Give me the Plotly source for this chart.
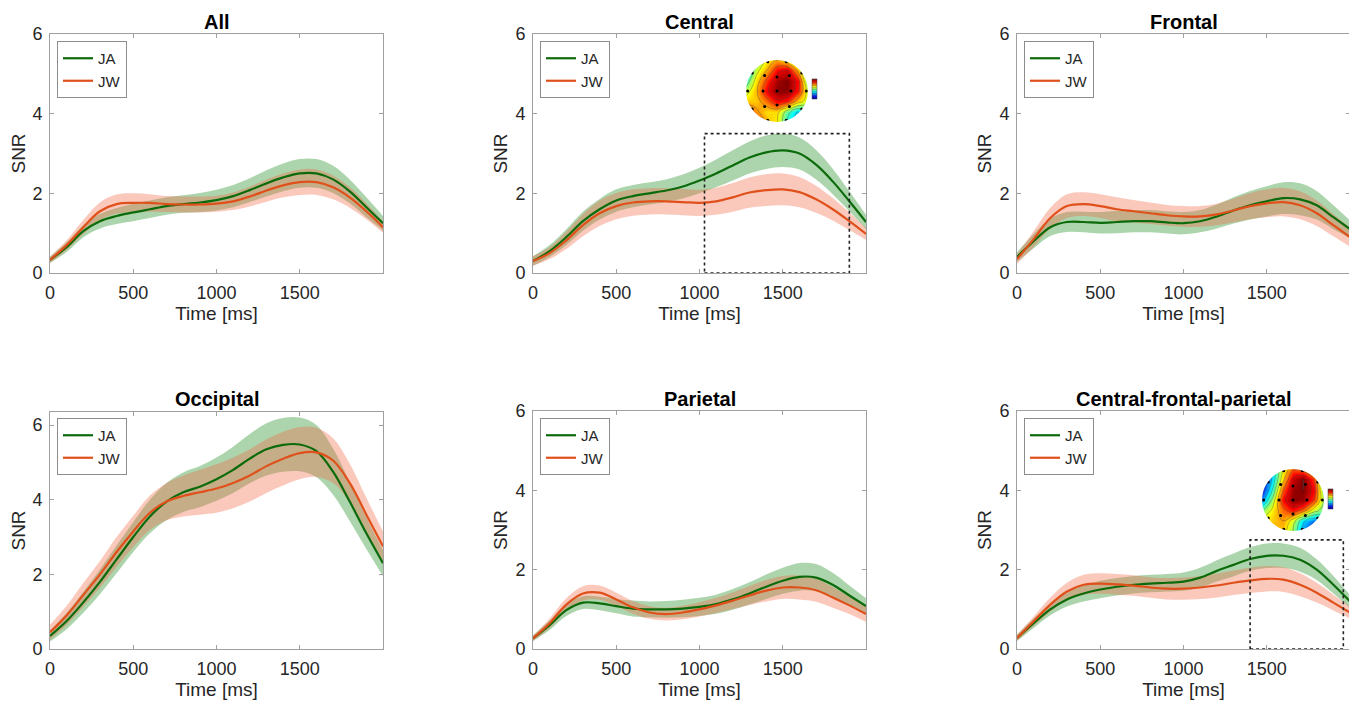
import plotly.graph_objects as go

# ---------------- data ----------------
time_ms = [0, 100, 200, 300, 400, 500, 600, 700, 800, 900, 1000,
           1100, 1200, 1300, 1400, 1500, 1600, 1700, 1800, 1900, 2000]

panel_titles = ["All", "Central", "Frontal", "Occipital", "Parietal", "Central-frontal-parietal"]

# mean SNR curves (JA / JW) per panel, and half-width of shaded bands
all_ja = [0.33, 0.65, 1.05, 1.30, 1.43, 1.52, 1.60, 1.68, 1.73, 1.77, 1.83, 1.93, 2.08, 2.25, 2.40, 2.50, 2.50, 2.35, 2.05, 1.65, 1.25]
all_jw = [0.33, 0.70, 1.15, 1.55, 1.73, 1.76, 1.76, 1.73, 1.72, 1.72, 1.74, 1.80, 1.92, 2.07, 2.20, 2.28, 2.28, 2.15, 1.90, 1.55, 1.15]
all_ja_err = [0.08, 0.12, 0.15, 0.18, 0.2, 0.22, 0.22, 0.22, 0.22, 0.24, 0.26, 0.28, 0.3, 0.33, 0.35, 0.36, 0.36, 0.34, 0.3, 0.25, 0.18]
all_jw_err = [0.08, 0.12, 0.18, 0.22, 0.24, 0.24, 0.22, 0.2, 0.2, 0.2, 0.2, 0.22, 0.25, 0.28, 0.3, 0.32, 0.32, 0.3, 0.26, 0.2, 0.14]

cen_ja = [0.30, 0.55, 0.90, 1.30, 1.60, 1.82, 1.93, 2.00, 2.07, 2.17, 2.32, 2.50, 2.70, 2.90, 3.03, 3.08, 3.00, 2.72, 2.30, 1.80, 1.28]
cen_jw = [0.30, 0.50, 0.82, 1.20, 1.50, 1.68, 1.77, 1.80, 1.80, 1.78, 1.76, 1.80, 1.90, 2.02, 2.08, 2.10, 2.03, 1.85, 1.60, 1.30, 0.98]
cen_ja_err = [0.12, 0.15, 0.2, 0.24, 0.26, 0.28, 0.28, 0.28, 0.28, 0.3, 0.32, 0.35, 0.38, 0.4, 0.42, 0.42, 0.4, 0.37, 0.32, 0.25, 0.18]
cen_jw_err = [0.12, 0.15, 0.22, 0.28, 0.32, 0.33, 0.33, 0.33, 0.33, 0.33, 0.33, 0.34, 0.36, 0.38, 0.4, 0.4, 0.38, 0.34, 0.28, 0.22, 0.15]

fro_ja = [0.40, 0.80, 1.15, 1.28, 1.28, 1.26, 1.28, 1.30, 1.30, 1.27, 1.25, 1.30, 1.42, 1.57, 1.70, 1.80, 1.88, 1.85, 1.70, 1.40, 1.10]
fro_jw = [0.35, 0.85, 1.38, 1.68, 1.73, 1.68, 1.60, 1.55, 1.50, 1.45, 1.42, 1.42, 1.47, 1.57, 1.68, 1.75, 1.78, 1.70, 1.50, 1.20, 0.90]
fro_ja_err = [0.12, 0.18, 0.22, 0.25, 0.26, 0.27, 0.28, 0.28, 0.28, 0.28, 0.28, 0.28, 0.3, 0.33, 0.36, 0.38, 0.4, 0.4, 0.36, 0.3, 0.22]
fro_jw_err = [0.12, 0.2, 0.26, 0.3, 0.3, 0.3, 0.3, 0.28, 0.27, 0.26, 0.26, 0.26, 0.27, 0.3, 0.33, 0.35, 0.36, 0.35, 0.32, 0.28, 0.24]

occ_ja = [0.35, 0.75, 1.25, 1.80, 2.40, 3.00, 3.55, 3.95, 4.20, 4.35, 4.55, 4.80, 5.10, 5.35, 5.47, 5.48, 5.30, 4.75, 3.95, 3.10, 2.30]
occ_jw = [0.45, 0.90, 1.45, 2.00, 2.60, 3.15, 3.65, 3.95, 4.10, 4.20, 4.30, 4.45, 4.65, 4.90, 5.10, 5.25, 5.27, 5.05, 4.45, 3.60, 2.75]
occ_ja_err = [0.15, 0.22, 0.28, 0.33, 0.37, 0.4, 0.45, 0.5, 0.53, 0.55, 0.58, 0.62, 0.66, 0.7, 0.72, 0.72, 0.7, 0.62, 0.52, 0.42, 0.35]
occ_jw_err = [0.2, 0.26, 0.32, 0.36, 0.4, 0.42, 0.46, 0.5, 0.55, 0.6, 0.65, 0.68, 0.7, 0.72, 0.72, 0.7, 0.66, 0.6, 0.52, 0.45, 0.4]

par_ja = [0.27, 0.60, 0.98, 1.17, 1.15, 1.08, 1.02, 1.00, 1.00, 1.02, 1.06, 1.13, 1.25, 1.40, 1.57, 1.72, 1.82, 1.80, 1.62, 1.35, 1.08]
par_jw = [0.27, 0.65, 1.12, 1.40, 1.42, 1.25, 1.05, 0.92, 0.88, 0.92, 1.00, 1.10, 1.22, 1.35, 1.47, 1.55, 1.55, 1.48, 1.30, 1.10, 0.88]
par_ja_err = [0.07, 0.12, 0.15, 0.16, 0.17, 0.18, 0.2, 0.2, 0.21, 0.22, 0.23, 0.24, 0.26, 0.28, 0.31, 0.33, 0.35, 0.34, 0.3, 0.25, 0.2]
par_jw_err = [0.07, 0.12, 0.16, 0.18, 0.18, 0.17, 0.16, 0.16, 0.16, 0.17, 0.18, 0.19, 0.21, 0.24, 0.27, 0.29, 0.3, 0.29, 0.26, 0.22, 0.2]

cfp_ja = [0.28, 0.65, 1.00, 1.25, 1.40, 1.50, 1.57, 1.62, 1.65, 1.67, 1.70, 1.80, 1.97, 2.12, 2.27, 2.35, 2.35, 2.25, 2.00, 1.62, 1.20]
cfp_jw = [0.28, 0.70, 1.12, 1.45, 1.62, 1.65, 1.63, 1.60, 1.55, 1.52, 1.52, 1.55, 1.60, 1.67, 1.73, 1.77, 1.75, 1.62, 1.42, 1.17, 0.92]
cfp_ja_err = [0.08, 0.12, 0.15, 0.18, 0.2, 0.22, 0.22, 0.22, 0.22, 0.22, 0.23, 0.25, 0.27, 0.29, 0.3, 0.31, 0.31, 0.3, 0.26, 0.22, 0.16]
cfp_jw_err = [0.08, 0.12, 0.18, 0.22, 0.25, 0.26, 0.26, 0.26, 0.26, 0.27, 0.28, 0.29, 0.3, 0.31, 0.32, 0.32, 0.31, 0.29, 0.25, 0.2, 0.15]

panels = [
    (all_ja, all_ja_err, all_jw, all_jw_err),
    (cen_ja, cen_ja_err, cen_jw, cen_jw_err),
    (fro_ja, fro_ja_err, fro_jw, fro_jw_err),
    (occ_ja, occ_ja_err, occ_jw, occ_jw_err),
    (par_ja, par_ja_err, par_jw, par_jw_err),
    (cfp_ja, cfp_ja_err, cfp_jw, cfp_jw_err),
]
y_max = [6, 6, 6, 6.35, 6, 6]

x_ticks = [0, 500, 1000, 1500]
y_ticks = [0, 2, 4, 6]
series_names = ["JA", "JW"]

# highlighted time windows (dotted boxes): panel index -> (t0, t1, snr_top)
highlight_windows = {1: (1030, 1900, 3.5), 5: (1400, 1960, 2.75)}

# topographic maps (scalp SNR, normalized) on a 7x7 grid, rows bottom->top
topo_axis = [-1.0, -0.667, -0.333, 0.0, 0.333, 0.667, 1.0]
topo_central = [
    [0.88, 0.82, 0.68, 0.62, 0.38, 0.25, 0.35],
    [0.84, 0.72, 0.64, 0.64, 0.45, 0.30, 0.42],
    [0.66, 0.66, 0.76, 0.88, 0.84, 0.66, 0.55],
    [0.55, 0.68, 0.88, 0.99, 0.99, 0.84, 0.55],
    [0.42, 0.64, 0.82, 0.96, 1.00, 0.86, 0.45],
    [0.30, 0.56, 0.70, 0.86, 0.90, 0.68, 0.35],
    [0.30, 0.45, 0.62, 0.70, 0.62, 0.45, 0.30],
]
topo_cfp = [
    [0.66, 0.70, 0.66, 0.50, 0.25, 0.12, 0.22],
    [0.62, 0.66, 0.70, 0.56, 0.32, 0.22, 0.32],
    [0.48, 0.62, 0.76, 0.86, 0.76, 0.56, 0.45],
    [0.25, 0.52, 0.86, 0.99, 0.97, 0.80, 0.50],
    [0.12, 0.40, 0.78, 0.97, 1.00, 0.86, 0.45],
    [0.08, 0.32, 0.66, 0.92, 1.00, 0.80, 0.40],
    [0.10, 0.32, 0.60, 0.78, 0.74, 0.56, 0.32],
]
electrode_x = [-0.3, 0.3, -0.8, -0.4, 0.0, 0.4, 0.8, -0.95, -0.45, 0.0, 0.45, 0.95, -0.8, -0.4, 0.0, 0.4, 0.8, -0.3, 0.3]
electrode_y = [0.95, 0.95, 0.58, 0.5, 0.45, 0.5, 0.58, 0.0, 0.0, 0.0, 0.0, 0.0, -0.58, -0.5, -0.45, -0.5, -0.58, -0.95, -0.95]

# ---------------- styling ----------------
OFF = 8                      # default page body margin
W, H = 1357 - OFF, 705 - OFF
col_px = [(50, 383), (533, 866), (1017, 1350)]   # page pixels
row_px = [(34, 273), (411, 649)]
JA_LINE = "#0b6b0b"
JW_LINE = "#e0501a"
JA_FILL = "rgba(40,145,40,0.38)"
JW_FILL = "rgba(242,105,70,0.36)"
AX_COL = "#a0a0a0"
TXT = "#262626"
FONT = "Liberation Sans, Arial, sans-serif"
MATLAB_JET = [[0.0, "rgb(0,0,143)"], [0.11, "rgb(0,0,255)"], [0.36, "rgb(0,255,255)"],
              [0.61, "rgb(255,255,0)"], [0.86, "rgb(255,0,0)"], [1.0, "rgb(128,0,0)"]]


def px_x(p):
    return (p - OFF) / W


def px_y(p):
    return 1 - (p - OFF) / H


fig = go.Figure()
layout = dict(
    width=W, height=H, margin=dict(l=0, r=0, t=0, b=0, autoexpand=False),
    paper_bgcolor="white", plot_bgcolor="white",
    font=dict(family=FONT, color=TXT, size=18),
    showlegend=True,
)
annotations = []
shapes = []

for i, (ja, ja_e, jw, jw_e) in enumerate(panels):
    r, c = divmod(i, 3)
    n = i + 1
    xa = "x" if n == 1 else f"x{n}"
    ya = "y" if n == 1 else f"y{n}"
    lg = "legend" if n == 1 else f"legend{n}"
    x0p, x1p = col_px[c]
    ytp, ybp = row_px[r]
    top_px = ytp + (1 if y_max[i] > 6 else 0)
    dom_x = [px_x(x0p), px_x(x1p)]
    dom_y = [px_y(ybp), px_y(top_px)]

    for mean, err, fillc in ((ja, ja_e, JA_FILL), (jw, jw_e, JW_FILL)):
        lo = [m - e for m, e in zip(mean, err)]
        hi = [m + e for m, e in zip(mean, err)]
        fig.add_trace(go.Scatter(x=time_ms, y=lo, mode="lines", line=dict(width=0, shape="spline"),
                                 xaxis=xa, yaxis=ya, showlegend=False, hoverinfo="skip", legend=lg))
        fig.add_trace(go.Scatter(x=time_ms, y=hi, mode="lines", line=dict(width=0, shape="spline"),
                                 fill="tonexty", fillcolor=fillc,
                                 xaxis=xa, yaxis=ya, showlegend=False, hoverinfo="skip", legend=lg))
    for mean, name, col in ((ja, series_names[0], JA_LINE), (jw, series_names[1], JW_LINE)):
        fig.add_trace(go.Scatter(x=time_ms, y=mean, mode="lines", name=name,
                                 line=dict(color=col, width=2.2, shape="spline"),
                                 xaxis=xa, yaxis=ya, legend=lg))

    axkey_x = "xaxis" if n == 1 else f"xaxis{n}"
    axkey_y = "yaxis" if n == 1 else f"yaxis{n}"
    layout[axkey_x] = dict(
        domain=dom_x, anchor=ya, range=[0, 2000], tickvals=x_ticks, automargin=False,
        ticks="inside", ticklen=4, tickcolor=AX_COL, showline=True, linecolor=AX_COL,
        linewidth=1, mirror="ticks", showgrid=False, zeroline=False,
        tickfont=dict(size=18, color=TXT), ticklabelstandoff=3,
        title=dict(text="Time [ms]", font=dict(size=19, color=TXT), standoff=5),
    )
    layout[axkey_y] = dict(
        domain=dom_y, anchor=xa, range=[0, y_max[i]], tickvals=y_ticks, automargin=False,
        ticks="inside", ticklen=4, tickcolor=AX_COL, showline=True, linecolor=AX_COL,
        linewidth=1, mirror="ticks", showgrid=False, zeroline=False,
        tickfont=dict(size=18, color=TXT), ticklabelstandoff=3,
        title=dict(text="SNR", font=dict(size=19, color=TXT), standoff=2),
    )
    layout[lg] = dict(
        x=px_x(x0p + 7), y=px_y(ytp + 7), xanchor="left", yanchor="top",
        bgcolor="white", bordercolor="#8c8c8c", borderwidth=1, traceorder="normal",
        font=dict(size=15, color=TXT), tracegroupgap=0, itemwidth=30,
    )
    annotations.append(dict(
        text=f"<b>{panel_titles[i]}</b>", x=px_x((x0p + x1p) / 2), y=px_y(ytp + 1),
        xref="paper", yref="paper", xanchor="center", yanchor="bottom", showarrow=False,
        font=dict(size=20, color="black", family=FONT),
    ))
    if i in highlight_windows:
        t0, t1, top = highlight_windows[i]
        shapes.append(dict(type="rect", xref=xa, yref=ya, x0=t0, x1=t1, y0=0, y1=top,
                           line=dict(color="#222222", width=1.6, dash="dot")))

# ---------------- topographic insets ----------------
insets = [
    (7, topo_central, (777, 91), (812, 89)),
    (8, topo_cfp, (1293, 500), (1328, 499)),
]
mask_path = ("M -1.3 -1.3 L 1.3 -1.3 L 1.3 1.3 L -1.3 1.3 Z "
             "M 1 0 C 1 0.5523 0.5523 1 0 1 C -0.5523 1 -1 0.5523 -1 0 "
             "C -1 -0.5523 -0.5523 -1 0 -1 C 0.5523 -1 1 -0.5523 1 0 Z")
for n, z, (cx, cy), (cbx, cby) in insets:
    xa, ya = f"x{n}", f"y{n}"
    half = 34
    fig.add_trace(go.Contour(
        x=topo_axis, y=topo_axis, z=z, xaxis=xa, yaxis=ya, colorscale=MATLAB_JET,
        zmin=0, zmax=1, autocontour=False,
        contours=dict(coloring="heatmap", start=0.1, end=1.0, size=0.1, showlines=True),
        line=dict(width=0.4, color="#444444", smoothing=1.3),
        showlegend=False, hoverinfo="skip",
        colorbar=dict(x=px_x(cbx), y=px_y(cby), xanchor="left", yanchor="middle",
                      lenmode="pixels", len=20, thickness=5, outlinewidth=0.5,
                      xpad=0, ypad=0, showticklabels=False, ticks=""),
    ))
    fig.add_trace(go.Scatter(x=electrode_x, y=electrode_y, mode="markers", xaxis=xa, yaxis=ya,
                             marker=dict(size=3, color="black"), showlegend=False, hoverinfo="skip"))
    layout[f"xaxis{n}"] = dict(domain=[px_x(cx - half), px_x(cx + half)], range=[-1.1, 1.1],
                               visible=False, anchor=ya)
    layout[f"yaxis{n}"] = dict(domain=[px_y(cy + half), px_y(cy - half)], range=[-1.1, 1.1],
                               visible=False, anchor=xa)
    shapes.append(dict(type="path", xref=xa, yref=ya, path=mask_path, fillrule="evenodd",
                       fillcolor="white", line=dict(width=0), layer="above"))

layout["annotations"] = annotations
layout["shapes"] = shapes
fig.update_layout(**layout)
fig.write_html("out.html")
